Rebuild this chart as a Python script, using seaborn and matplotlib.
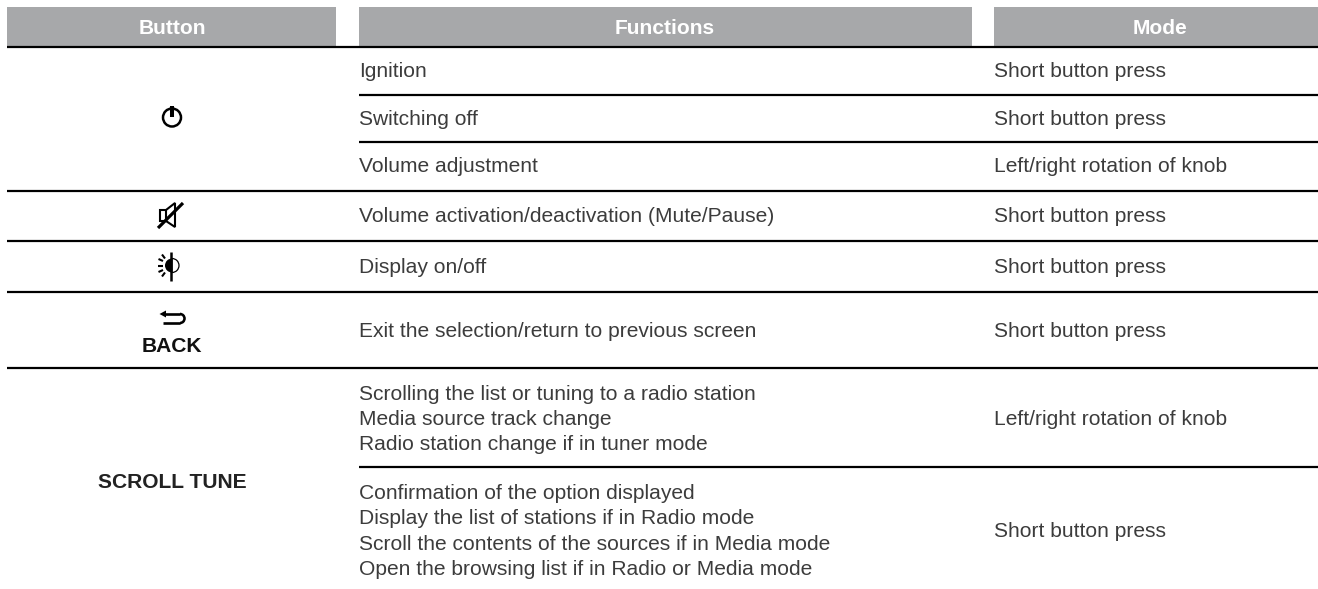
import matplotlib
matplotlib.use("Agg")
import matplotlib.pyplot as plt
from matplotlib.patches import Circle, Polygon, Wedge, Rectangle
import seaborn as sns

# table content
headers = ["Button", "Functions", "Mode"]
functions = [
    "Ignition",
    "Switching off",
    "Volume adjustment",
    "Volume activation/deactivation (Mute/Pause)",
    "Display on/off",
    "Exit the selection/return to previous screen",
    "Scrolling the list or tuning to a radio station\nMedia source track change\nRadio station change if in tuner mode",
    "Confirmation of the option displayed\nDisplay the list of stations if in Radio mode\nScroll the contents of the sources if in Media mode\nOpen the browsing list if in Radio or Media mode",
]
modes = [
    "Short button press",
    "Short button press",
    "Left/right rotation of knob",
    "Short button press",
    "Short button press",
    "Short button press",
    "Left/right rotation of knob",
    "Short button press",
]
row_centres = [70, 118, 165.5, 214.5, 266, 330, 418, 530]

sns.set_theme(style="white")
plt.rcParams['font.family'] = ['Liberation Sans', 'DejaVu Sans']

GREY = "#a7a8aa"
INK = "#3c3c3c"
LINE_H = 25.3
SIZE = 15.1

fig = plt.figure(figsize=(13.18, 5.89), dpi=100)
ax = fig.add_axes([0, 0, 1, 1])
ax.set_xlim(0, 1318)
ax.set_ylim(589, 0)
ax.axis("off")

# header bands
for x0, x1, name, cx in zip([7, 359, 994], [336, 972, 1318], headers, [172, 665, 1160]):
    ax.add_patch(Rectangle((x0, 7), x1 - x0, 39, fc=GREY, ec="none"))
    ax.text(cx, 34.5, name, color="white", fontsize=SIZE, fontweight="bold", ha="center", va="baseline")

# rules: full width ones, then the ones that only cover the right columns
ax.hlines([47, 190.5, 241, 292, 367.5], 7, 1318, color="black", lw=1.6)
ax.hlines([95, 142, 467], 359, 1318, color="black", lw=1.6)

for f, m, y in zip(functions, modes, row_centres):
    lines = f.split("\n")
    top = y - LINE_H * (len(lines) - 1) / 2
    for i, line in enumerate(lines):
        ax.text(359, top + i * LINE_H + 7, line, color=INK, fontsize=SIZE, ha="left", va="baseline")
    ax.text(994, y + 7, m, color=INK, fontsize=SIZE, ha="left", va="baseline")

# button column
ax.text(172, 352, "BACK", color="#111111", fontsize=SIZE, fontweight="bold", ha="center", va="baseline")
ax.text(172, 487.5, "SCROLL TUNE", color="#222222", fontsize=SIZE, fontweight="bold", ha="center", va="baseline")

# power icon
ax.add_patch(Circle((172, 117.5), 9, fc="none", ec="black", lw=1.8))
ax.plot([172, 172], [106, 117], color="black", lw=2.9, solid_capstyle="butt")

# mute icon
ax.add_patch(Polygon([[160, 210], [166, 210], [175, 203], [175, 227], [166, 221], [160, 221]],
                     closed=True, fc="none", ec="black", lw=1.5))
ax.plot([166, 166], [210, 221], color="black", lw=1.5, solid_capstyle="butt")
ax.plot([158, 183], [228, 203], color="black", lw=2.3, solid_capstyle="butt")

# display icon
ax.add_patch(Wedge((172, 265.5), 7, 90, 270, fc="black", ec="none"))
ax.add_patch(Wedge((172, 265.5), 7, -90, 90, fc="none", ec="black", lw=0.9))
ax.plot([171, 171], [252, 281], color="black", lw=1.8, solid_capstyle="butt")
rays = [(157.5, 265.5, 162.5, 265.5), (158.5, 259, 163, 261), (158.5, 272, 163, 270), (162, 254.5, 165, 258.5), (162, 276.5, 165, 272.5)]
for x0, y0, x1, y1 in rays:
    ax.plot([x0, x1], [y0, y1], color="black", lw=1.5, solid_capstyle="butt")

# back icon
ax.plot([165, 180], [314, 314], color="black", lw=1.9, solid_capstyle="butt")
ax.plot([163, 180], [323, 323], color="black", lw=1.9, solid_capstyle="butt")
ax.add_patch(Wedge((180, 318.5), 5.8, -90, 90, width=2.6, fc="black", ec="none"))
ax.add_patch(Polygon([[159.5, 314], [166, 310.5], [166, 317.5]], closed=True, fc="black", ec="none"))

fig.savefig("out.png", dpi=100)
